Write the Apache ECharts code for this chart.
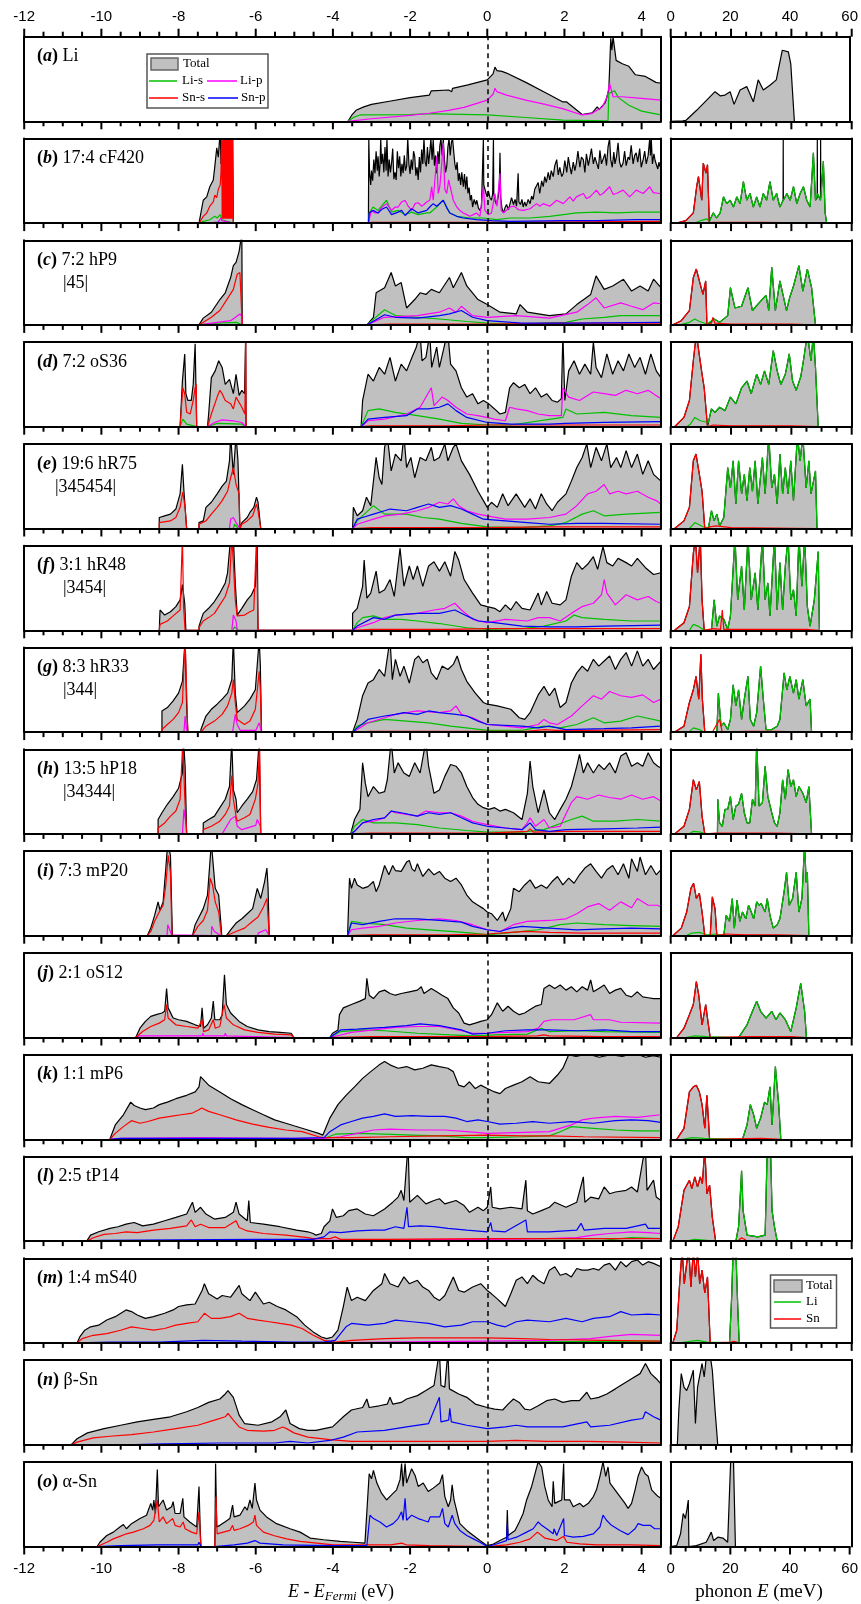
<!DOCTYPE html>
<html><head><meta charset="utf-8">
<script src="https://cdn.jsdelivr.net/npm/echarts@6/dist/echarts.min.js"></script>
<style>html,body{margin:0;padding:0;background:#fff}#c{width:861px;height:1604px}</style>
</head><body><div id="c"></div><script>
// ---------- labels / ticks ----------
const letters = ['a','b','c','d','e','f','g','h','i','j','k','l','m','n','o'];
const names = ['Li','17:4 cF420','7:2 hP9','7:2 oS36','19:6 hR75','3:1 hR48','8:3 hR33','13:5 hP18','7:3 mP20','2:1 oS12','1:1 mP6','2:5 tP14','1:4 mS40','β-Sn','α-Sn'];
const subs = ['','','|45|','','|345454|','|3454|','|344|','|34344|','','','','','','',''];
const eRange = [-12, 4.5], eMajor = 2, eMinorStep = 0.5;
const phRange = [0, 60], phMajor = 20, phMinorStep = 5;

// ---------- electronic DOS (x: eV, y: % of panel height) ----------
const A_tot = [-3.61,0,-3.5,8,-3.4,13,-3.2,17,-3.0,20,-2.5,24,-2.0,28,-1.5,31,-1.45,36,-1.0,37,-0.92,35,-0.9,39,-0.5,43,0,49,0.15,56,0.2,64,0.25,60,0.38,59,0.5,57,1.0,46,1.5,34,1.95,23,2.0,25,2.05,23,2.46,8,2.72,10,2.85,17,2.9,14,3.06,22,3.15,37,3.2,98,3.23,84,3.26,100,3.34,72,3.5,68,3.67,65,3.84,55,4.1,53,4.37,46,4.5,45];
const A_lip = [-3.61,0,-3.0,3,-2.0,7,-1.5,9.5,-1.0,13,-0.6,16.5,0,25,0.15,32,0.2,39,0.25,35,0.5,31,1.0,25,1.5,20,1.95,15,2.46,7.5,2.7,9,2.98,17,3.1,28,3.17,45,3.26,29,3.5,29,4.0,27,4.5,25];
const A_lis = [-3.61,0,-3.45,5,-3.3,7.5,-2.0,8,-1.5,9,-1.0,8.5,0,7.5,1.0,4.5,1.95,1.5,3.13,0.5,3.15,33,3.3,36,3.4,28,3.67,19,4.0,12,4.5,7.5];

const B_tot = [-7.47,0,-7.36,27,-7.27,31,-7.19,43,-7.1,51,-7.06,67,-7.01,89,-6.97,78,-6.92,110,-6.9,70,-6.88,110,-6.6,110,-6.58,0,
-3.08,0,-3.07,99,-3.05,60,-3.02,45,-3.0,62,-2.97,50,-2.94,75,-2.91,59,-2.88,85,-2.85,62,-2.83,79,-2.8,55,-2.78,68,-2.76,100,-2.74,70,-2.71,82,-2.68,60,-2.65,90,-2.62,62,-2.6,100,-2.57,55,-2.54,75,-2.51,60,-2.48,71,-2.45,88,-2.42,52,-2.39,60,-2.36,51,-2.33,85,-2.3,65,-2.27,79,-2.24,55,-2.21,70,-2.18,59,-2.15,80,-2.12,62,-2.09,67,-2.06,100,-2.03,70,-2.0,58,-1.97,75,-1.94,63,-1.91,85,-1.88,79,-1.85,56,-1.82,66,-1.79,51,-1.76,78,-1.73,60,-1.7,87,-1.67,70,-1.64,100,-1.61,72,-1.58,67,-1.55,90,-1.52,70,-1.49,83,-1.46,100,-1.43,75,-1.4,99,-1.37,68,-1.34,80,-1.31,59,-1.28,85,-1.25,70,-1.23,91,-1.2,100,-1.17,80,-1.14,99,-1.11,75,-1.08,60,-1.05,67,-1.02,90,-0.99,100,-0.96,80,-0.93,95,-0.9,100,-0.87,99,-0.84,70,-0.81,63,-0.78,72,-0.75,50,-0.72,59,-0.69,45,-0.66,60,-0.62,43,-0.59,58,-0.56,40,-0.53,55,-0.5,35,-0.47,42,-0.44,27,-0.41,33,-0.38,19,-0.34,28,-0.3,22,-0.27,27,-0.23,18,-0.19,15,-0.15,20,-0.11,18,-0.1,100,-0.09,45,-0.06,43,-0.03,35,0,31,0.03,38,0.07,30,0.11,27,0.14,35,0.16,100,0.17,35,0.2,27,0.24,22,0.28,30,0.31,40,0.33,83,0.35,30,0.38,18,0.42,12,0.46,18,0.5,22,0.55,16,0.59,23,0.63,30,0.68,22,0.72,28,0.76,20,0.8,59,0.82,25,0.86,22,0.9,28,0.93,19,0.97,25,1.01,20,1.06,28,1.11,23,1.15,32,1.19,28,1.23,40,1.28,39,1.32,48,1.36,35,1.41,50,1.45,43,1.49,55,1.53,48,1.58,60,1.62,51,1.66,62,1.71,55,1.75,68,1.8,75,1.84,57,1.88,66,1.93,55,1.97,59,2.01,74,2.06,60,2.1,78,2.14,67,2.18,58,2.23,72,2.27,62,2.31,71,2.35,85,2.4,66,2.44,78,2.49,75,2.53,60,2.57,82,2.62,68,2.66,67,2.7,88,2.75,70,2.79,78,2.83,79,2.88,64,2.92,86,2.96,70,3.0,71,3.05,82,3.09,68,3.13,90,3.17,100,3.2,75,3.24,66,3.28,84,3.31,70,3.35,79,3.39,95,3.43,72,3.47,66,3.52,71,3.56,85,3.6,68,3.65,78,3.69,75,3.73,92,3.78,70,3.82,80,3.86,83,3.9,72,3.95,88,3.99,66,4.04,75,4.08,85,4.12,70,4.17,80,4.21,100,4.23,80,4.25,100,4.28,70,4.32,82,4.35,74,4.38,75,4.42,64,4.45,72,4.47,67,4.5,70];
const B_sns = [-7.47,0,-7.36,8,-7.27,12,-7.19,20,-7.1,25,-7.06,33,-7.01,30,-6.97,40,-6.92,45,-6.9,60,
-6.88,110,-6.87,5,-6.86,110,-6.85,5,-6.84,110,-6.83,5,-6.82,110,-6.81,5,-6.8,110,-6.79,5,-6.78,110,-6.77,5,-6.76,110,-6.75,5,-6.74,110,-6.73,5,-6.72,110,-6.71,5,-6.7,110,-6.69,5,-6.68,110,-6.67,5,-6.66,110,-6.65,5,-6.64,110,-6.63,5,-6.62,110,-6.61,5,-6.6,110,-6.59,110,-6.58,0,
-3.08,0,-3.0,1,0,1,4.5,2];
const B_lip = [-6.98,0,-6.95,3,-6.9,6,-6.88,3,-6.58,0,-3.08,0,-3.06,4,-3.0,15,-2.91,12,-2.83,12,-2.74,18,-2.61,23,-2.48,15,-2.39,19,-2.31,19,-2.22,25,-2.13,27,-2.05,20,-1.96,15,-1.87,23,-1.79,24,-1.7,20,-1.64,22,-1.57,25,-1.49,27,-1.44,43,-1.4,27,-1.35,55,-1.31,79,-1.27,35,-1.23,43,-1.18,70,-1.14,95,-1.1,40,-1.05,35,-1.0,51,-0.97,45,-0.88,27,-0.79,19,-0.71,15,-0.62,12,-0.53,10,-0.45,8,-0.36,10,-0.28,12,-0.19,8,-0.1,43,-0.06,15,0.03,10,0.11,12,0.2,35,0.25,20,0.33,59,0.36,15,0.42,12,0.59,19,0.7,20,0.8,16,0.93,15,1.11,17,1.28,23,1.36,20,1.45,23,1.62,20,1.8,27,1.97,23,2.14,31,2.23,26,2.31,31,2.49,35,2.57,29,2.66,31,2.83,39,2.92,33,3.0,35,3.17,43,3.26,34,3.35,35,3.52,39,3.69,31,3.86,39,4.04,35,4.21,43,4.3,36,4.47,35,4.5,36];
const B_lis = [-7.47,0,-7.36,2,-7.19,4,-7.06,8,-7.0,6,-6.92,10,-6.88,4,-6.58,0,-3.08,0,-3.06,12,-2.96,19,-2.83,15,-2.74,20,-2.61,27,-2.48,13,-2.31,15,-2.13,10,-1.96,13,-1.79,10,-1.57,12,-1.49,12,-1.31,19,-1.14,27,-0.97,12,-0.79,8,-0.45,6,-0.1,6,0.24,4,0.59,6,1.11,6,1.62,8,1.97,10,2.31,12,2.83,13,3.35,12,3.86,13,4.5,13];
const B_snp = [-7.47,0,-7.0,1,-6.58,0,-3.08,0,-3.06,12,-2.96,15,-2.83,12,-2.74,16,-2.61,19,-2.48,10,-2.31,13,-2.22,15,-2.13,9,-1.96,17,-1.79,12,-1.57,15,-1.49,19,-1.4,23,-1.31,20,-1.14,27,-1.05,18,-0.97,12,-0.79,8,-0.62,6,-0.28,4,0.11,3,0.59,2,1.97,3,2.83,3,3.86,4,4.5,4];

const C_tot = [-7.47,0,-7.36,8,-7.15,15,-6.93,30,-6.79,38,-6.65,56,-6.58,70,-6.51,74,-6.43,87,-6.39,99,-6.36,110,-6.35,0,-3.12,0,-2.95,9,-2.88,38,-2.66,44,-2.49,62,-2.38,46,-2.23,50,-2.09,20,-1.88,30,-1.74,38,-1.59,36,-1.45,42,-1.24,38,-0.98,56,-0.88,44,-0.67,62,-0.53,46,-0.24,30,0,24,0.33,15,0.75,13,0.85,24,1.04,15,1.61,11,2.04,13,2.32,24,2.68,36,2.82,58,3.03,42,3.25,46,3.53,54,3.74,40,3.96,46,4.17,40,4.31,54,4.5,44];
const C_sns = [-7.47,0,-7.15,9,-6.93,17,-6.72,32,-6.58,42,-6.48,60,-6.41,62,-6.36,60,-6.35,0,-3.12,0,-2.5,1,0,1,2.0,2,4.5,2];
const C_lip = [-7.47,0,-6.65,5,-6.41,13,-6.36,10,-6.35,0,-3.12,0,-2.66,9,-1.81,11,-1.24,15,-0.98,20,-0.81,15,-0.67,22,-0.38,11,0,9,0.75,11,1.61,8,2.32,15,2.6,24,2.82,32,3.03,20,3.46,26,3.74,22,4.03,18,4.31,26,4.5,25];
const C_lis = [-7.47,0,-7.0,2,-6.5,3,-6.35,0,-3.12,0,-2.66,18,-2.38,11,-1.81,9,-1.24,7,-0.53,4,0,2,0.9,1,2.04,3,2.46,7,3.03,9,3.46,11,4.5,11];
const C_snp = [-3.12,0,-2.66,12,-2.38,9,-1.81,8,-1.24,11,-0.98,13,-0.67,17,-0.38,9,0,5,0.9,2,2.32,2,4.5,3];

const D_tot = [-7.96,0,-7.9,54,-7.84,86,-7.81,39,-7.76,31,-7.67,31,-7.62,50,-7.57,98,-7.54,100,-7.53,0,-7.25,0,-7.22,15,-7.15,58,-7.05,66,-6.96,78,-6.87,70,-6.79,50,-6.68,56,-6.58,39,-6.51,62,-6.43,37,-6.36,43,-6.29,39,-6.26,110,-6.25,0,-3.27,0,-3.23,31,-3.09,62,-2.95,54,-2.8,70,-2.66,62,-2.52,82,-2.38,54,-2.23,74,-2.09,66,-1.95,82,-1.84,94,-1.74,110,-1.69,78,-1.59,82,-1.49,110,-1.44,70,-1.31,94,-1.24,70,-1.1,98,-1.02,110,-0.95,74,-0.81,66,-0.67,46,-0.53,35,-0.38,39,-0.24,27,-0.1,31,0.04,27,0.19,21,0.33,15,0.47,17,0.58,46,0.68,52,0.83,46,0.97,50,1.11,39,1.25,46,1.4,35,1.54,39,1.68,31,1.82,29,1.92,33,1.96,110,2.01,31,2.11,66,2.25,78,2.39,62,2.53,74,2.68,62,2.75,100,2.82,70,2.96,58,3.1,86,3.25,62,3.39,78,3.53,66,3.67,86,3.82,70,3.96,82,4.1,62,4.24,86,4.38,66,4.5,58];
const D_sns = [-7.96,0,-7.89,46,-7.84,39,-7.79,17,-7.7,15,-7.62,31,-7.57,46,-7.54,50,-7.53,0,-7.25,0,-7.15,15,-7.0,35,-6.93,43,-6.87,39,-6.79,31,-6.65,27,-6.58,21,-6.51,35,-6.36,23,-6.28,15,-6.26,110,-6.25,0,-3.27,0,-3.0,1,-1.0,1,0,2,2.0,2,4.5,2];
const D_lip = [-7.6,0,-7.57,2,-7.53,0,-7.25,0,-7.07,5,-6.87,8,-6.58,7,-6.36,5,-6.25,0,-3.27,0,-3.09,7,-2.66,9,-2.09,15,-1.74,23,-1.45,46,-1.38,25,-1.17,35,-1.02,31,-0.81,23,-0.53,15,-0.24,13,0.19,9,0.47,7,0.58,23,0.75,21,1.04,19,1.32,15,1.61,13,1.92,13,1.96,46,2.11,35,2.39,31,2.75,41,3.03,39,3.32,37,3.6,43,3.89,39,4.17,43,4.5,33];
const D_lis = [-7.96,0,-7.89,9,-7.79,3,-7.53,0,-7.25,0,-7.0,4,-6.36,3,-6.25,0,-3.27,0,-3.09,19,-2.8,21,-2.38,17,-1.81,13,-1.24,9,-0.67,4,0,2,0.61,2,1.96,11,2.04,21,2.32,15,3.03,17,3.74,13,4.5,11];
const D_snp = [-3.27,0,-3.09,9,-2.66,11,-2.09,13,-1.81,21,-1.52,21,-1.24,23,-1.02,27,-0.81,19,-0.53,11,0,5,0.61,3,1.61,3,2.04,4,3.03,5,4.5,6];

const E_tot = [-8.5,0,-8.5,13,-8.36,15,-8.21,17,-8.07,23,-7.96,41,-7.9,76,-7.86,44,-7.79,0,-7.47,0,-7.47,7,-7.36,9,-7.29,25,-7.15,31,-7.0,41,-6.87,50,-6.76,56,-6.68,80,-6.65,110,-6.58,64,-6.51,110,-6.46,80,-6.41,0,-6.36,0,-6.36,7,-6.22,13,-6.15,19,-6.05,25,-5.98,37,-5.94,31,-5.87,0,-3.49,0,-3.47,25,-3.37,15,-3.23,21,-3.13,37,-3.02,27,-2.88,84,-2.8,60,-2.73,52,-2.66,96,-2.59,110,-2.49,68,-2.38,88,-2.23,80,-2.16,110,-2.09,72,-1.98,84,-1.88,60,-1.74,84,-1.59,80,-1.45,96,-1.38,80,-1.24,84,-1.1,100,-1.02,80,-0.88,96,-0.81,100,-0.67,80,-0.46,64,-0.24,44,-0.1,33,0,25,0.11,31,0.26,25,0.4,41,0.54,27,0.75,41,0.97,25,1.11,35,1.25,23,1.4,41,1.54,29,1.68,21,1.82,31,2.04,41,2.18,56,2.32,72,2.46,84,2.58,100,2.68,72,2.82,96,2.96,80,3.1,100,3.2,72,3.35,84,3.46,72,3.6,92,3.74,72,3.89,88,4.03,64,4.17,80,4.31,64,4.5,56];
const E_sns = [-8.5,0,-8.5,7,-8.21,9,-8.07,13,-7.96,25,-7.89,43,-7.83,25,-7.79,0,-7.47,0,-7.47,5,-7.29,9,-7.15,17,-7.0,25,-6.87,33,-6.73,44,-6.65,60,-6.58,72,-6.51,52,-6.43,41,-6.41,0,-6.36,0,-6.36,5,-6.22,9,-6.08,15,-5.98,29,-5.94,21,-5.87,0,-3.49,0,-3.0,1,0,1,1.5,2,4.5,2];
const E_lip = [-6.68,0,-6.65,11,-6.58,13,-6.51,7,-6.41,0,-3.49,0,-3.37,5,-2.95,11,-2.66,15,-2.23,17,-1.81,21,-1.52,25,-1.24,31,-1.02,29,-0.88,35,-0.74,27,-0.53,21,-0.24,17,0,15,0.47,11,1.04,11,1.61,13,2.04,17,2.32,27,2.6,41,2.82,44,3.03,52,3.17,41,3.39,44,3.6,41,3.89,44,4.17,37,4.38,33,4.5,29];
const E_lis = [-6.58,0,-6.55,5,-6.45,0,-3.49,0,-3.37,9,-2.95,27,-2.66,17,-2.09,17,-1.67,13,-1.24,11,-0.67,6,0,2,0.9,1,1.61,3,2.04,7,2.46,17,2.75,21,3.03,15,3.6,17,4.5,19];
const E_snp = [-3.49,0,-3.37,11,-3.23,13,-2.95,17,-2.66,21,-2.52,23,-2.09,21,-1.81,25,-1.52,29,-1.24,25,-0.95,27,-0.67,23,-0.38,17,-0.1,11,0.47,9,1.04,7,1.61,5,2.32,6,3.03,6,4.5,5];

const F_tot = [-8.5,0,-8.48,24,-8.36,18,-8.21,22,-8.07,28,-7.96,36,-7.9,54,-7.84,32,-7.81,0,-7.47,0,-7.47,5,-7.36,20,-7.22,26,-7.07,34,-6.93,44,-6.79,56,-6.73,68,-6.65,110,-6.58,110,-6.53,56,-6.48,18,-6.36,26,-6.22,36,-6.11,42,-6.01,52,-5.96,110,-5.94,0,-3.49,0,-3.49,20,-3.37,26,-3.23,52,-3.19,83,-3.12,38,-3.02,44,-2.88,70,-2.8,44,-2.66,48,-2.52,60,-2.41,40,-2.26,97,-2.16,52,-2.02,76,-1.92,60,-1.81,76,-1.67,52,-1.52,76,-1.38,81,-1.24,70,-1.1,81,-0.95,64,-0.84,93,-0.74,83,-0.6,60,-0.38,44,-0.17,30,0,28,0.19,26,0.33,22,0.47,30,0.61,24,0.75,34,0.9,26,1.11,24,1.32,44,1.4,30,1.54,46,1.68,32,1.89,30,2.04,36,2.18,64,2.32,80,2.46,72,2.6,78,2.75,87,2.86,72,3.0,99,3.1,80,3.25,76,3.39,85,3.6,80,3.74,76,3.89,85,4.1,74,4.31,66,4.5,68];
const F_sns = [-8.5,0,-8.48,7,-8.29,11,-8.14,17,-7.96,24,-7.9,110,-7.87,28,-7.83,0,-7.47,0,-7.47,3,-7.36,11,-7.22,15,-7.07,20,-6.93,30,-6.79,40,-6.68,56,-6.62,110,-6.58,80,-6.53,36,-6.48,17,-6.29,18,-6.15,22,-6.05,24,-5.98,110,-5.94,0,-3.49,0,-3.0,1,-1.0,1,0,2,1.5,2,3.0,2,4.5,2];
const F_lip = [-6.62,0,-6.58,18,-6.51,11,-6.48,0,-3.49,0,-3.37,3,-2.95,9,-2.66,15,-2.38,18,-1.81,20,-1.38,24,-1.1,26,-0.84,32,-0.67,24,-0.38,13,0,9,0.47,13,1.04,11,1.32,15,1.61,15,1.89,11,2.18,20,2.46,28,2.75,32,2.96,42,3.03,60,3.1,44,3.32,30,3.6,42,3.89,36,4.17,40,4.38,34,4.5,32];
const F_lis = [-6.6,0,-6.55,4,-6.45,0,-3.49,0,-3.37,9,-3.23,15,-2.95,17,-2.66,13,-2.23,13,-1.81,11,-1.24,8,-0.53,3,0,1,0.9,2,1.47,5,2.04,11,2.25,18,2.46,15,3.03,13,3.74,11,4.5,11];
const F_snp = [-3.49,0,-3.37,5,-2.95,15,-2.66,13,-2.38,18,-1.81,20,-1.24,20,-0.84,24,-0.53,17,-0.24,11,0.19,9,0.9,5,1.61,4,2.32,4,3.03,5,4.5,6];

const G_tot = [-8.43,0,-8.43,25,-8.29,29,-8.14,37,-8.0,46,-7.9,60,-7.83,110,-7.79,31,-7.76,0,-7.42,0,-7.42,3,-7.29,19,-7.15,27,-7.0,33,-6.87,39,-6.73,46,-6.62,62,-6.58,110,-6.53,46,-6.48,23,-6.29,31,-6.15,39,-6.01,50,-5.91,110,-5.88,78,-5.85,0,-3.49,0,-3.37,15,-3.23,43,-3.09,58,-2.95,62,-2.8,74,-2.66,66,-2.52,110,-2.46,62,-2.38,86,-2.26,66,-2.16,78,-2.02,58,-1.88,86,-1.78,90,-1.67,82,-1.55,86,-1.45,70,-1.31,62,-1.17,78,-1.02,74,-0.88,80,-0.78,90,-0.67,74,-0.53,60,-0.31,46,-0.1,35,0,33,0.26,31,0.61,27,0.83,17,0.97,15,1.11,23,1.32,44,1.47,54,1.61,43,1.75,52,1.89,29,2.04,35,2.18,58,2.32,70,2.46,78,2.6,72,2.75,86,2.89,78,3.03,84,3.17,90,3.32,74,3.46,86,3.6,94,3.74,78,3.89,96,4.03,78,4.17,86,4.31,74,4.5,84];
const G_sns = [-8.43,0,-8.43,3,-8.29,9,-8.14,15,-8.0,23,-7.9,35,-7.83,110,-7.79,46,-7.76,0,-7.42,0,-7.42,1,-7.29,7,-7.07,13,-6.87,21,-6.73,31,-6.62,46,-6.58,62,-6.53,35,-6.48,15,-6.29,9,-6.15,13,-6.01,27,-5.91,72,-5.88,50,-5.85,0,-3.49,0,-3.0,1,0,1,1.0,1,1.5,3,1.75,2,2.5,2,4.5,3];
const G_lip = [-7.86,0,-7.83,19,-7.79,3,-7.76,0,-6.6,0,-6.53,21,-6.48,9,-6.4,2,-6.0,2,-5.91,11,-5.85,0,-3.49,0,-3.37,3,-3.09,11,-2.66,17,-2.38,21,-2.09,23,-1.81,25,-1.24,23,-0.95,25,-0.81,31,-0.67,21,-0.38,17,0,9,0.47,7,0.9,5,1.32,9,1.47,15,1.61,11,1.82,9,2.18,19,2.46,31,2.75,43,2.96,39,3.17,48,3.46,43,3.74,41,4.03,44,4.31,35,4.5,39];
const G_lis = [-3.49,0,-3.37,7,-3.09,11,-2.66,15,-2.09,13,-1.52,11,-0.95,7,-0.38,4,0,2,0.9,2,1.47,7,1.89,5,2.32,9,2.75,17,3.03,11,3.46,13,3.89,19,4.5,13];
const G_snp = [-3.49,0,-3.37,5,-3.09,15,-2.66,19,-2.38,21,-2.16,23,-1.81,21,-1.52,25,-1.24,23,-0.81,21,-0.53,19,-0.24,13,0,9,0.9,7,1.32,5,1.61,7,2.04,3,3.03,4,3.74,5,4.5,7];

const H_tot = [-8.53,0,-8.53,17,-8.43,25,-8.29,35,-8.14,44,-8.0,54,-7.9,72,-7.87,110,-7.83,80,-7.79,0,-7.36,0,-7.36,13,-7.22,17,-7.07,21,-6.93,31,-6.79,41,-6.68,56,-6.62,110,-6.58,52,-6.51,41,-6.48,25,-6.36,33,-6.22,41,-6.08,50,-5.98,64,-5.91,110,-5.87,0,-3.54,0,-3.44,17,-3.3,29,-3.23,84,-3.16,60,-3.09,44,-2.95,56,-2.8,48,-2.66,50,-2.59,64,-2.49,110,-2.41,72,-2.31,84,-2.16,72,-2.02,68,-1.88,84,-1.74,72,-1.59,110,-1.52,80,-1.38,48,-1.24,52,-1.1,68,-0.95,82,-0.81,80,-0.67,72,-0.53,56,-0.38,43,-0.24,35,-0.1,31,0.04,29,0.19,31,0.33,27,0.47,29,0.68,25,0.9,17,1.04,48,1.11,86,1.18,56,1.32,25,1.47,52,1.61,25,1.75,17,1.89,29,2.04,41,2.18,56,2.32,80,2.39,94,2.49,72,2.6,84,2.75,72,2.89,82,3.03,76,3.17,84,3.32,72,3.46,92,3.6,96,3.74,80,3.89,84,4.03,80,4.17,96,4.31,84,4.42,80,4.5,78];
const H_sns = [-8.53,0,-8.53,7,-8.36,13,-8.21,21,-8.07,27,-7.96,41,-7.89,110,-7.84,44,-7.79,0,-7.36,0,-7.36,5,-7.15,9,-6.93,15,-6.79,23,-6.68,33,-6.62,69,-6.58,41,-6.51,21,-6.48,15,-6.29,19,-6.15,23,-6.01,41,-5.94,60,-5.9,110,-5.87,0,-3.54,0,-3.0,1,0,1,1.04,3,1.11,6,1.2,2,2.0,3,3.0,3,4.5,3];
const H_lip = [-7.9,0,-7.86,29,-7.8,9,-7.79,0,-6.87,0,-6.65,17,-6.53,21,-6.48,9,-6.36,5,-6.0,10,-5.96,17,-5.88,9,-5.87,0,-3.54,0,-3.44,3,-3.23,13,-2.95,15,-2.66,19,-2.49,27,-2.38,25,-2.09,23,-1.81,21,-1.59,27,-1.24,25,-0.95,25,-0.67,21,-0.38,15,0,11,0.47,7,0.9,5,1.04,13,1.11,19,1.25,9,1.47,17,1.61,7,1.89,9,2.18,37,2.32,44,2.6,41,2.89,46,3.17,43,3.46,41,3.74,46,4.03,41,4.31,44,4.5,39];
const H_lis = [-3.54,0,-3.44,9,-3.23,17,-2.95,13,-2.38,13,-1.81,11,-1.24,7,-0.53,4,0,2,0.9,2,1.47,5,2.18,17,2.46,21,2.75,15,3.32,15,3.89,17,4.5,15];
const H_snp = [-3.54,0,-3.44,3,-3.23,13,-2.95,17,-2.66,19,-2.49,27,-2.23,25,-1.81,21,-1.52,25,-1.24,23,-0.95,25,-0.67,19,-0.38,13,0,9,0.47,7,0.9,5,1.11,13,1.25,5,1.61,3,2.04,5,3.03,6,3.89,7,4.5,8];

const I_tot = [-8.81,0,-8.72,9,-8.62,24,-8.53,40,-8.48,30,-8.4,40,-8.33,80,-8.28,110,-8.21,95,-8.16,0,-7.64,0,-7.57,13,-7.47,22,-7.36,32,-7.25,48,-7.15,110,-7.1,110,-7.05,56,-6.96,48,-6.9,13,-6.88,0,-6.76,0,-6.65,7,-6.51,15,-6.36,20,-6.22,26,-6.08,32,-5.96,56,-5.87,44,-5.77,64,-5.71,80,-5.68,56,-5.65,0,-3.62,0,-3.57,68,-3.52,56,-3.44,68,-3.37,60,-3.23,56,-3.09,58,-2.95,64,-2.88,52,-2.8,60,-2.66,83,-2.55,72,-2.45,83,-2.38,77,-2.23,76,-2.09,87,-2.02,89,-1.95,79,-1.88,76,-1.81,85,-1.67,70,-1.52,79,-1.38,72,-1.24,76,-1.1,68,-0.95,64,-0.81,68,-0.67,60,-0.53,48,-0.38,40,-0.24,36,-0.1,32,0,28,0.11,26,0.26,18,0.4,28,0.47,17,0.61,32,0.68,56,0.83,52,0.97,60,1.11,66,1.25,56,1.4,60,1.54,56,1.68,64,1.82,70,1.96,60,2.11,68,2.25,62,2.39,72,2.53,80,2.68,85,2.82,76,2.96,68,3.1,78,3.25,83,3.39,72,3.53,85,3.67,68,3.74,91,3.89,76,3.96,93,4.1,72,4.24,83,4.38,72,4.5,78];
const I_sns = [-8.81,0,-8.72,5,-8.62,17,-8.5,28,-8.4,36,-8.33,60,-8.27,95,-8.21,75,-8.17,0,-7.64,0,-7.5,11,-7.36,18,-7.25,30,-7.18,68,-7.12,60,-7.05,40,-6.96,28,-6.89,0,-6.76,0,-6.51,5,-6.29,9,-6.08,17,-5.94,22,-5.8,34,-5.71,44,-5.65,0,-3.62,0,-3.0,1,-1.0,1,0,2,0.61,4,1.0,5,1.61,4,2.5,3,4.5,3];
const I_lip = [-8.3,0,-8.28,13,-8.18,1,-8.16,0,-7.15,0,-7.14,11,-7.07,5,-6.9,0,-5.94,0,-5.94,3,-5.74,7,-5.65,0,-3.62,0,-3.52,7,-3.23,9,-2.8,11,-2.38,15,-1.81,18,-1.24,20,-0.81,18,-0.38,13,0,7,0.33,5,0.68,13,1.04,17,1.61,18,2.04,20,2.32,26,2.6,34,2.89,38,3.17,30,3.46,40,3.74,33,3.89,44,4.17,36,4.42,36,4.5,34];
const I_lis = [-3.62,0,-3.52,17,-3.23,15,-2.66,13,-2.09,9,-1.52,7,-0.95,5,-0.38,3,0,1,0.47,3,1.32,7,1.89,13,2.32,15,3.03,13,3.74,12,4.5,11];
const I_snp = [-3.62,0,-3.52,15,-3.23,13,-2.8,17,-2.38,20,-1.81,20,-1.24,18,-0.67,16,-0.38,11,0,7,0.33,5,0.61,9,0.9,11,1.61,9,2.32,7,3.03,8,3.74,9,4.5,8];

const J_tot = [-9.11,0,-9.0,11,-8.86,19,-8.72,25,-8.58,27,-8.43,29,-8.36,31,-8.31,58,-8.27,35,-8.14,23,-8.0,21,-7.79,19,-7.57,15,-7.43,13,-7.39,35,-7.35,11,-7.25,15,-7.15,23,-7.1,43,-7.06,21,-6.93,21,-6.87,27,-6.81,74,-6.76,39,-6.65,29,-6.43,19,-6.22,13,-5.94,9,-5.65,7,-5.37,6,-5.08,5,-5.01,0,-4.08,0,-4.01,5,-3.87,9,-3.83,27,-3.73,35,-3.52,39,-3.3,43,-3.16,46,-3.12,70,-3.06,50,-2.95,46,-2.8,54,-2.66,56,-2.52,52,-2.38,50,-2.23,52,-2.02,54,-1.81,56,-1.71,60,-1.64,52,-1.45,58,-1.31,54,-1.17,50,-1.02,46,-0.88,35,-0.74,29,-0.6,17,-0.46,15,-0.31,17,-0.17,19,0,21,0.11,27,0.26,41,0.4,31,0.54,37,0.68,31,0.83,27,0.97,29,1.11,33,1.25,37,1.4,39,1.47,58,1.61,62,1.75,58,1.89,62,2.04,56,2.18,60,2.32,54,2.46,60,2.6,56,2.68,68,2.75,54,2.89,58,3.03,62,3.17,52,3.32,56,3.46,58,3.6,50,3.74,48,3.89,54,4.03,48,4.17,47,4.31,46,4.5,46];
const J_sns = [-9.11,0,-8.93,7,-8.72,13,-8.5,17,-8.36,21,-8.31,39,-8.27,23,-8.07,15,-7.79,13,-7.5,11,-7.39,21,-7.35,7,-7.22,9,-7.1,21,-7.05,11,-6.93,13,-6.82,39,-6.76,23,-6.58,15,-6.29,9,-5.94,6,-5.51,4,-5.08,3,-5.01,0,-4.08,0,-3.0,1,-1.0,1,0,1,1.3,2,1.47,3,1.6,2,3.0,1,4.5,1];
const J_lip = [-9.11,0,-9.0,2,-7.39,2,-7.37,5,-7.35,2,-6.81,2,-6.79,5,-6.76,2,-5.01,0,-4.08,0,-3.8,3,-3.52,6,-2.95,9,-2.38,12,-1.81,13,-1.24,13,-0.67,8,-0.38,5,0,5,0.47,6,1.04,7,1.32,11,1.47,19,1.68,21,2.25,21,2.68,27,2.75,21,3.17,21,3.46,18,4.5,17];
const J_lis = [-4.08,0,-3.8,7,-3.23,9,-2.66,8,-1.81,5,-0.95,3,-0.38,2,0.19,3,1.04,4,1.4,11,1.61,7,2.32,8,3.03,7,4.5,6];
const J_snp = [-4.08,0,-3.8,9,-3.37,10,-2.66,12,-2.09,14,-1.74,16,-1.24,14,-0.67,9,-0.38,4,0,5,0.47,8,1.04,9,1.61,9,2.32,8,3.03,9,3.74,7,4.5,7];

const K_tot = [-9.78,0,-9.64,17,-9.43,29,-9.24,44,-9.15,40,-9.0,37,-8.86,35,-8.65,37,-8.5,41,-8.29,44,-8.07,48,-7.79,52,-7.57,56,-7.47,62,-7.43,74,-7.22,64,-6.93,56,-6.65,48,-6.36,41,-6.08,35,-5.8,29,-5.51,23,-5.22,19,-5.01,16,-4.65,11,-4.37,7,-4.26,5,-4.08,25,-3.87,41,-3.66,52,-3.44,62,-3.23,72,-3.02,80,-2.8,88,-2.66,92,-2.52,88,-2.31,84,-2.09,86,-1.88,82,-1.67,84,-1.45,88,-1.24,86,-1.02,84,-0.88,80,-0.74,64,-0.6,62,-0.46,68,-0.31,60,-0.17,64,0,60,0.19,56,0.33,54,0.47,60,0.68,64,0.9,68,1.11,74,1.32,68,1.61,66,1.82,76,1.96,84,2.11,100,2.3,98,2.6,101,2.9,97,3.2,100,3.5,98,3.8,102,4.1,97,4.3,99,4.5,97];
const K_sns = [-9.78,0,-9.64,7,-9.43,15,-9.22,22,-9.0,19,-8.79,21,-8.5,25,-8.21,27,-7.93,29,-7.64,31,-7.47,35,-7.4,37,-7.22,33,-6.93,29,-6.51,23,-6.08,18,-5.65,14,-5.22,11,-4.8,9,-4.37,3,-4.23,2,-3.5,2,-2.5,3,-1.24,4,0,5,0.9,4,1.61,4,2.5,3,4.5,2];
const K_lip = [-9.78,0,-9.5,1,-7.5,2,-5,1,-4.23,1,-3.8,3,-3.37,7,-2.95,11,-2.52,12,-1.81,11,-1.1,11,-0.53,9,0,7,0.75,8,1.61,9,2.18,17,2.46,23,2.75,25,3.32,27,3.89,26,4.5,29];
const K_lis = [-4.23,1,-3.94,6,-3.37,7,-2.66,6,-1.95,5,-1.24,4,-0.53,2,0,2,0.9,3,1.61,4,1.89,9,2.18,15,2.75,13,3.32,11,3.89,10,4.5,10];
const K_snp = [-9.78,0,-9.5,1,-5,1,-4.23,2,-4.08,9,-3.8,17,-3.52,21,-3.23,25,-2.95,27,-2.66,30,-2.38,27,-1.95,28,-1.52,27,-1.1,27,-0.81,25,-0.53,21,-0.24,23,0,21,0.33,18,0.75,19,1.18,21,1.61,19,2.18,21,2.75,19,3.32,22,3.74,23,4.17,22,4.5,20];

const L_tot = [-10.38,0,-10.28,7,-10.07,11,-9.78,15,-9.57,17,-9.36,20,-9.15,22,-8.93,18,-8.65,20,-8.36,24,-8.07,28,-7.79,32,-7.64,46,-7.57,34,-7.43,40,-7.29,32,-7.07,26,-6.79,28,-6.58,34,-6.51,46,-6.43,32,-6.22,24,-6.18,48,-6.14,22,-5.8,20,-5.37,17,-4.94,13,-4.65,11,-4.51,9,-4.44,7,-4.3,9,-4.23,17,-4.08,24,-4.01,38,-3.91,28,-3.73,30,-3.59,36,-3.37,38,-3.16,32,-2.95,30,-2.8,34,-2.66,38,-2.45,46,-2.31,52,-2.23,60,-2.16,48,-2.08,97,-2.05,110,-2.01,46,-1.81,54,-1.59,44,-1.38,48,-1.24,50,-1.1,44,-0.81,48,-0.6,42,-0.46,34,-0.24,40,-0.1,36,0,40,0.09,64,0.13,40,0.33,38,0.61,40,0.9,38,1.0,72,1.04,36,1.18,32,1.4,36,1.61,40,1.75,46,2.04,40,2.32,46,2.49,76,2.53,46,2.68,52,2.89,50,3.03,64,3.17,56,3.32,58,3.6,60,3.74,64,3.89,58,4.03,95,4.1,110,4.14,60,4.31,72,4.38,52,4.5,48];
const L_sns = [-10.38,0,-10.21,4,-9.93,8,-9.64,9,-9.36,11,-9.07,10,-8.65,13,-8.21,15,-7.79,18,-7.67,25,-7.57,17,-7.43,20,-7.22,16,-6.79,16,-6.51,24,-6.43,16,-6.22,12,-5.8,9,-5.22,7,-4.65,4,-4.51,3,-4.08,3,-3.94,5,-3.8,2,-2.66,2,0,3,1.61,3,2.6,3,4.5,3];
const L_lip = [-10.38,0,-4.5,1,0,2,1.5,3,2.32,4,2.75,7,3.17,9,3.74,11,4.17,10,4.5,9];
const L_lis = [-10.38,0,0,1,3.0,1,3.74,4,4.5,3];
const L_snp = [-10.38,0,-10.0,1,-6.0,2,-4.51,2,-4.23,5,-4.08,11,-3.8,10,-3.37,12,-2.95,13,-2.66,13,-2.38,17,-2.16,15,-2.08,40,-2.04,17,-1.74,18,-1.38,17,-1.02,15,-0.53,13,0,11,0.09,22,0.13,12,0.47,11,1.0,25,1.04,11,1.61,11,2.32,13,2.43,21,2.51,13,3.03,15,3.6,15,4.1,20,4.17,15,4.5,15];

const M_tot = [-10.63,0,-10.56,7,-10.43,15,-10.28,19,-10.07,21,-9.86,27,-9.64,31,-9.36,39,-9.22,37,-9.07,33,-8.86,29,-8.65,31,-8.36,35,-8.14,39,-8.0,43,-7.79,45,-7.57,46,-7.39,62,-7.33,70,-7.22,58,-7.0,52,-6.87,56,-6.65,54,-6.43,68,-6.36,58,-6.15,50,-6.01,60,-5.8,46,-5.65,48,-5.44,43,-5.22,39,-4.94,31,-4.73,21,-4.51,13,-4.3,7,-4.16,5,-4.01,7,-3.87,15,-3.73,43,-3.63,66,-3.52,50,-3.37,54,-3.16,50,-2.95,62,-2.73,70,-2.66,82,-2.52,70,-2.31,66,-2.16,78,-2.02,70,-1.81,74,-1.67,66,-1.52,62,-1.38,54,-1.24,50,-1.1,56,-0.88,78,-0.74,62,-0.6,60,-0.38,66,-0.17,70,0,62,0.11,58,0.26,52,0.4,46,0.47,43,0.61,58,0.75,74,0.9,78,1.04,70,1.18,80,1.32,74,1.47,70,1.61,86,1.75,90,1.89,80,2.04,82,2.18,78,2.32,88,2.46,86,2.6,86,2.75,88,2.89,86,3.03,92,3.17,94,3.32,86,3.46,96,3.6,90,3.74,96,3.89,98,4.03,92,4.17,96,4.31,94,4.5,90];
const M_sns = [-10.63,0,-10.5,5,-10.21,9,-9.86,11,-9.5,15,-9.22,19,-8.93,17,-8.65,15,-8.36,17,-8.07,21,-7.79,23,-7.5,25,-7.33,35,-7.15,29,-6.93,29,-6.65,31,-6.43,35,-6.22,29,-5.94,27,-5.65,25,-5.37,23,-5.08,21,-4.8,17,-4.51,9,-4.23,3,-3.94,1,-3.5,3,-2.66,5,-1.81,6,-1.24,6,-0.5,6,0,6,0.9,5,1.61,4,3.03,3,4.5,2];
const M_lip = [-10.63,0,-4.23,0,-2.66,1,0,2,1.61,3,2.68,5,3.25,8,3.74,10,4.5,9];
const M_lis = [-10.63,0,-4.23,0,0,1,4.5,2];
const M_snp = [-10.63,0,-9.78,1,-8.5,1,-7.36,3,-6.36,2,-5.08,1,-4.23,1,-3.94,3,-3.8,11,-3.66,19,-3.52,23,-3.09,21,-2.66,23,-2.38,27,-1.95,25,-1.52,23,-1.1,19,-0.67,21,-0.38,25,0,25,0.26,21,0.47,19,0.75,25,1.04,27,1.61,25,2.04,29,2.46,25,2.75,29,3.17,31,3.46,37,3.74,33,4.17,34,4.5,33];

const N_tot = [-10.78,0,-10.63,7,-10.36,14,-9.93,19,-9.5,23,-9.07,27,-8.65,30,-8.21,33,-7.79,39,-7.5,44,-7.22,50,-6.93,54,-6.79,60,-6.72,64,-6.58,56,-6.43,35,-6.29,25,-5.94,23,-5.58,27,-5.37,33,-5.22,41,-5.11,25,-4.87,19,-4.65,17,-4.44,17,-4.23,19,-4.01,21,-3.73,33,-3.52,41,-3.23,44,-3.12,54,-3.06,44,-2.8,46,-2.59,48,-2.52,56,-2.45,48,-2.23,50,-2.09,54,-1.81,58,-1.59,64,-1.38,70,-1.24,110,-1.2,70,-1.1,68,-1.02,110,-0.98,66,-0.74,60,-0.53,56,-0.31,48,0,44,0.19,42,0.4,41,0.54,48,0.68,54,0.83,50,0.97,42,1.11,41,1.32,46,1.54,52,1.75,54,1.96,50,2.18,52,2.39,52,2.58,62,2.68,54,2.89,56,3.1,60,3.32,66,3.53,72,3.74,78,3.96,84,4.1,96,4.24,84,4.38,78,4.5,72];
const N_sns = [-10.78,0,-10.63,3,-10.21,8,-9.78,10,-9.22,12,-8.65,15,-8.07,19,-7.5,23,-7.07,29,-6.79,33,-6.72,37,-6.58,29,-6.43,21,-6.22,17,-5.8,16,-5.51,17,-5.3,21,-5.2,19,-5.01,14,-4.65,9,-4.08,6,-3.52,4,-2.66,4,-1.24,4,0,4,0.75,5,1.54,4,2.6,4,3.6,3,4.5,2];
const N_snp = [-9.15,0,-8.36,1,-6.93,2,-5.51,2,-5.11,4,-4.65,2,-4.08,5,-3.73,9,-3.37,15,-2.66,17,-2.09,21,-1.52,25,-1.24,56,-1.2,27,-1.0,29,-0.97,43,-0.93,27,-0.53,23,0,19,0.47,21,0.75,23,1.04,21,1.61,21,1.96,21,2.58,27,2.68,21,3.17,23,3.74,29,4.03,31,4.1,39,4.31,33,4.5,29];

const O_tot = [-10.11,0,-10.04,5,-9.86,13,-9.69,17,-9.52,23,-9.43,26,-9.35,21,-9.22,27,-9.0,33,-8.83,37,-8.72,51,-8.67,43,-8.64,55,-8.6,39,-8.55,91,-8.52,47,-8.4,55,-8.31,43,-8.18,47,-8.14,53,-8.09,39,-7.96,39,-7.89,57,-7.86,35,-7.71,29,-7.53,23,-7.47,71,-7.44,23,-7.42,0,-7.06,0,-7.04,98,-7.01,23,-6.93,25,-6.8,29,-6.67,33,-6.6,49,-6.56,35,-6.41,37,-6.28,47,-6.22,43,-6.15,55,-6.09,45,-6.02,75,-5.98,55,-5.89,43,-5.72,35,-5.46,27,-5.11,21,-4.85,17,-4.59,10,-4.24,8,-3.81,6,-3.47,5,-3.17,4,-3.12,4,-3.06,86,-3.0,80,-2.95,90,-2.86,75,-2.74,63,-2.61,55,-2.48,61,-2.35,67,-2.26,79,-2.22,98,-2.18,71,-2.13,98,-2.09,75,-1.96,92,-1.87,84,-1.79,71,-1.66,75,-1.53,65,-1.48,67,-1.4,69,-1.23,75,-1.16,85,-1.1,59,-1.01,47,-0.95,55,-0.91,73,-0.86,55,-0.71,27,-0.53,19,-0.36,13,-0.19,7,0,1,0.16,3,0.33,7,0.5,11,0.52,43,0.54,13,0.72,19,0.83,29,0.93,39,1.02,55,1.15,71,1.26,90,1.32,100,1.41,94,1.49,71,1.58,55,1.68,47,1.71,77,1.75,51,1.84,53,1.93,55,1.98,98,2.0,55,2.14,55,2.23,47,2.31,49,2.4,51,2.49,47,2.62,51,2.75,59,2.83,67,2.92,83,3.0,100,3.07,83,3.13,94,3.18,75,3.31,67,3.44,59,3.57,51,3.65,45,3.74,51,3.83,67,3.91,83,4.0,94,4.09,86,4.17,83,4.26,67,4.34,63,4.43,59,4.5,57];
const O_sns = [-10.11,0,-9.86,5,-9.69,9,-9.52,12,-9.35,15,-9.3,14,-9.17,17,-8.91,21,-8.74,25,-8.64,31,-8.55,55,-8.5,29,-8.4,35,-8.31,27,-8.15,33,-8.09,25,-7.96,23,-7.88,29,-7.83,21,-7.66,17,-7.53,15,-7.47,41,-7.44,15,-7.42,0,-7.06,0,-7.03,59,-7.0,15,-6.84,17,-6.67,19,-6.6,25,-6.56,19,-6.41,21,-6.19,25,-6.06,29,-6.02,37,-5.98,25,-5.8,17,-5.54,13,-5.2,9,-4.85,6,-4.42,4,-3.99,2,-3.12,2,-2.5,2,-2.22,4,-2.1,2,-1.5,1,0,0,0.5,2,0.85,5,1.11,9,1.3,17,1.49,10,1.8,7,1.98,12,2.06,5,2.4,3,2.83,2,3.7,2,4.5,1];
const O_snp = [-10.11,0,-9.5,1,-8.55,2,-7.5,2,-7.47,5,-7.42,0,-7.06,0,-7.04,1,-6.56,2,-6.22,4,-6.02,7,-5.89,4,-5.29,2,-3.99,1,-3.12,1,-3.04,37,-2.95,33,-2.78,29,-2.61,23,-2.44,27,-2.31,33,-2.22,41,-2.18,31,-2.13,57,-2.09,31,-1.96,37,-1.79,33,-1.66,31,-1.53,29,-1.48,35,-1.23,35,-1.16,45,-1.1,27,-1.01,23,-0.91,37,-0.84,27,-0.71,19,-0.53,13,-0.36,9,-0.19,5,0,0,0.24,3,0.5,7,0.52,27,0.54,8,0.76,11,1.02,17,1.19,21,1.32,29,1.41,25,1.54,21,1.71,15,1.73,21,1.8,13,1.98,33,2.0,13,2.23,11,2.49,12,2.75,15,2.92,23,3.0,37,3.09,31,3.22,25,3.44,19,3.65,14,3.83,21,3.91,27,4.04,25,4.22,25,4.34,21,4.5,21];

// ---------- phonon DOS (x: meV, y: % of panel height) ----------
const phA_tot = [0,0,4,0.5,5,1,8.6,13,14.7,35,16.5,30,18,31,19.7,35,21,20,23,37,25.2,41,27.4,23,29,49,30.7,37,33,43,35,49,37,84,39,82,39.8,68,41,0];
const phB_sn = [2,0,5,3,7.5,12,8.6,43,9.2,55,10.3,27,10.8,71,11.7,59,12.2,69,12.8,0];
const phB_li = [13,4,14.1,12,15.2,6,16.4,12,17.5,31,18.6,23,19.7,27,20.8,19,21.9,31,23,23,24.1,49,25.2,27,26.3,35,27.4,19,28.5,31,29.6,19,30.7,35,31.8,27,32.9,49,34,27,35.1,35,36.2,19,37.3,27,38.5,35,39.6,27,40.7,43,41.8,23,42.9,35,44,43,45.1,27,46.2,19,47.3,83,48,27,48.6,35,49.7,27,50.6,73,51.2,12,51.7,0];
const phB_liLow = [8,0,10,3,12,5,12.8,2];
const phB_snHigh = [12.8,0,14,1,30,1,51.7,0];
const phB_spk = [37.25,27,37.3,99,37.35,27,48.55,30,48.6,99,48.65,35,49.65,27,49.7,99,49.75,30];
const phC_sn = [0.7,0,3.5,5,6.2,17,7.5,56,8.5,66,9.8,48,10.7,36,11.6,52,12,0];
const phC_li = [12.5,0,14.4,7,16.2,3,18.9,11,19.8,44,21.3,20,23.5,22,25.6,44,27.1,17,29.8,28,31.6,35,32.5,17,33.5,68,34.7,17,36.2,52,38.4,17,39.5,33,40.7,46,42.5,70,43.8,40,45.3,66,46.7,44,48,0];
const phC_liLow = [3,0,6.2,3,8,7,9.5,4,12,1];
const phC_snHigh = [12,0,13.5,2,14,9,14.6,2,20,1,30,1,40,1,48,0];
const phD_sn = [1.3,0,4.4,11,6.2,31,7.5,78,8.5,110,9.6,82,10.4,62,11.1,46,12.2,0];
const phD_li = [12.5,0,13.5,21,14.7,17,16.2,23,18,19,19.8,35,21.6,27,23.5,46,25.3,54,26.7,39,28.5,62,29.8,50,31.1,66,32.5,50,34,90,35.3,66,36.5,50,38,62,39.3,86,40.4,54,41.6,43,43.1,59,44,78,45.3,110,46.5,78,47.3,110,48,70,48.9,0];
const phD_liLow = [5.3,0,6.5,3,8,11,9.8,7,12.5,5];
const phD_snHigh = [12.2,0,14,2,20,1,30,1,40,1,48.9,0];
const phE_sn = [1.3,0,4.4,9,6.2,25,7.5,80,8.4,88,9.5,64,10.4,44,11.3,0];
const phE_li = [12.5,0,13.5,21,14.4,9,15.3,17,16.2,3,17.6,13,18.9,72,19.8,48,20.7,80,21.6,29,22.5,80,23.5,41,24.4,64,25.3,33,26.2,72,27.1,44,28,80,28.9,29,30.4,84,31.3,41,32.5,110,33.5,48,34.4,64,35.3,29,36.2,88,37.1,41,38,72,38.9,41,39.8,80,40.7,33,42,110,42.9,80,43.8,110,44.9,48,45.8,80,46.5,41,48,68,48.5,0];
const phE_liLow = [6.2,0,8,7,10.7,2,12.5,1];
const phE_snHigh = [11.3,0,13,2,15,3,20,1,48,0];
const phF_sn = [1.3,0,4.4,9,6.2,28,7.5,91,8.2,110,8.9,68,9.8,110,10.4,36,11.1,0];
const phF_li = [13.5,0,14.4,36,15.3,5,16.2,17,17.6,13,18.9,1,19.8,17,21.3,110,22.2,36,23.5,76,24.4,24,25.6,110,26.7,36,28,68,28.9,24,30.4,110,31.3,36,32.2,56,32.9,17,34.4,110,35.3,24,36.2,80,37.1,24,38,76,38.9,110,39.8,36,40.7,48,41.6,17,42.5,110,43.5,52,44.4,110,45.3,28,46.2,5,47.6,36,48.9,93,49.3,0];
const phF_liLow = [6.2,0,7.5,7,9,5,10.7,1];
const phF_snHigh = [11.1,0,14,2,16.5,1,17.1,24,17.6,1,25,1,35,1,45,1,49,0];
const phG_sn = [1.3,0,4.4,7,6.2,35,7.5,50,8.4,66,9.3,39,10,92,10.5,39,11.3,0];
const phG_li = [15.3,0,15.8,46,16.7,7,17.6,11,18.9,3,19.8,15,20.7,56,21.6,31,22.5,50,23.5,15,24.4,39,25.6,66,26.4,15,27.5,7,28.5,23,29.8,78,30.7,39,31.6,3,33.5,3,35.3,7,36.2,15,37.6,70,38.5,50,39.5,66,40.7,46,41.6,62,42.5,39,43.8,62,44.9,31,46.2,39,46.7,0];
const phG_liLow = [6,0,7.5,5,9.5,3,11,0];
const phG_snHigh = [11.3,0,14,1,16.2,15,17.1,0,25,1,35,1,46.7,0];
const phH_sn = [1.3,0,4.4,9,6.2,29,7.5,64,8.5,52,9.5,62,10.4,21,11.3,0];
const phH_li = [15.5,0,15.6,41,16.2,13,17.1,9,18,29,18.9,29,19.8,44,20.7,17,21.6,33,22.5,35,23.5,48,24.4,25,25.3,13,26.2,13,27.1,41,28,33,28.5,110,29.3,33,30.4,37,31.3,80,32.2,44,33.5,25,34.4,13,35.3,9,36.2,25,37.1,64,38,41,38.9,76,39.8,56,40.7,64,41.6,44,42.5,56,43.8,48,44.9,37,45.8,56,46.7,0];
const phH_liLow = [6,0,7.5,3,10,2,12,0];
const phH_snHigh = [11.3,0,15,1,25,1,35,1,46.7,0];
const phI_sn = [0.7,0,3.5,9,5.3,28,6.7,56,7.6,62,8.5,44,9.5,50,10.4,28,11.3,0,13.1,0,13.8,46,14.7,32,15.3,0];
const phI_li = [17.6,0,18.4,24,19.5,17,20.4,44,21.1,9,22,42,22.9,17,23.8,28,24.9,20,25.8,36,26.7,28,27.5,20,28.5,40,29.3,36,30,38,31.3,28,32,44,32.9,24,34,9,35.3,13,36.2,20,37.6,52,38.4,75,39.3,36,40.4,44,41.6,75,42.5,28,43.5,44,44.4,110,44.9,63,45.3,75,45.8,0];
const phI_liLow = [5,0,7,3,9.5,4,12,1,15,2];
const phI_snHigh = [15.3,0,18,2,25,1,35,1,45.8,0];
const phJ_sn = [2,0,4.4,11,6.2,27,7.5,39,8.5,66,9.3,50,10.4,15,11.6,39,12.5,15,13.1,0];
const phJ_li = [22.5,0,25.3,15,27.1,31,28.5,43,29.8,31,31.6,23,33.5,31,34.9,21,36.2,29,38,21,39.8,7,41.6,35,43.1,64,44.4,31,45,0];
const phJ_liLow = [5,0,8,2,12,1];
const phJ_snHigh = [13.1,0,25,1,40,1,45,0];
const phK_sn = [2,0,4.4,13,6.2,56,7.5,62,8.5,64,9.5,56,10.4,41,11.3,13,12,52,12.9,0];
const phK_li = [23.8,0,25.3,17,26.4,41,27.5,29,28.5,13,29.8,25,31.1,44,32,41,32.9,62,33.6,17,34.7,86,35.8,41,36.5,0];
const phK_liLow = [4,0,7,2,11,1];
const phK_snHigh = [13,0,30,1,36.5,0];
const phL_sn = [0.7,0,2.5,17,4.4,60,5.3,66,6.2,72,7,62,8,76,8.9,64,9.8,76,10.5,68,11.3,110,12,56,12.9,66,13.8,28,14.9,0];
const phL_li = [21.6,0,22.5,17,23.5,83,24,36,25.3,7,28.9,5,31.3,7,32,110,33.1,110,33.6,36,34.4,17,35.3,0];
const phL_liLow = [5,0,8,2,12,1,14,0];
const phL_snHigh = [15,0,22.5,1,23.5,4,25,1,35,0];
const phM_sn = [0.7,0,2,15,3.1,78,3.8,110,4.5,70,5.3,94,6,110,6.7,66,7.5,110,8.2,78,8.9,110,9.6,70,10.4,86,11.3,59,12.2,78,13.1,0];
const phM_li = [19.5,0,20.2,54,20.7,110,21.6,110,22.2,46,22.7,0];
const phM_liLow = [3,0,7,2,9,3,12,1];
const phM_snHigh = [13.1,0,20,1,21,2,22.7,0];
const phN_tot = [2.2,0,2.7,41,3.5,84,4.4,68,5.3,64,6.2,72,7.5,88,8.2,25,8.9,68,10.4,96,11.1,80,12,110,12.9,110,13.8,88,14.7,41,15.6,0];
const phO_tot = [0,0,2,1,3.3,15,4.2,39,4.9,33,5.5,45,5.9,55,6.1,0,8.6,1,11.9,5,13.6,17,14.4,7,15.8,11,17.5,10,19.1,5,20.2,110,21,110,21.7,0];

// ---------- assemble ----------
const dos = [
  {tot:A_tot, lis:A_lis, lip:A_lip},
  {tot:B_tot, lis:B_lis, lip:B_lip, sns:B_sns, snp:B_snp},
  {tot:C_tot, lis:C_lis, lip:C_lip, sns:C_sns, snp:C_snp},
  {tot:D_tot, lis:D_lis, lip:D_lip, sns:D_sns, snp:D_snp},
  {tot:E_tot, lis:E_lis, lip:E_lip, sns:E_sns, snp:E_snp},
  {tot:F_tot, lis:F_lis, lip:F_lip, sns:F_sns, snp:F_snp},
  {tot:G_tot, lis:G_lis, lip:G_lip, sns:G_sns, snp:G_snp},
  {tot:H_tot, lis:H_lis, lip:H_lip, sns:H_sns, snp:H_snp},
  {tot:I_tot, lis:I_lis, lip:I_lip, sns:I_sns, snp:I_snp},
  {tot:J_tot, lis:J_lis, lip:J_lip, sns:J_sns, snp:J_snp},
  {tot:K_tot, lis:K_lis, lip:K_lip, sns:K_sns, snp:K_snp},
  {tot:L_tot, lis:L_lis, lip:L_lip, sns:L_sns, snp:L_snp},
  {tot:M_tot, lis:M_lis, lip:M_lip, sns:M_sns, snp:M_snp},
  {tot:N_tot, sns:N_sns, snp:N_snp},
  {tot:O_tot, sns:O_sns, snp:O_snp}
];
const phon = [
  {tot:phA_tot},
  {sn:phB_sn, li:phB_li, liLow:phB_liLow, snHigh:phB_snHigh, extra:phB_spk},
  {sn:phC_sn, li:phC_li, liLow:phC_liLow, snHigh:phC_snHigh},
  {sn:phD_sn, li:phD_li, liLow:phD_liLow, snHigh:phD_snHigh},
  {sn:phE_sn, li:phE_li, liLow:phE_liLow, snHigh:phE_snHigh},
  {sn:phF_sn, li:phF_li, liLow:phF_liLow, snHigh:phF_snHigh},
  {sn:phG_sn, li:phG_li, liLow:phG_liLow, snHigh:phG_snHigh},
  {sn:phH_sn, li:phH_li, liLow:phH_liLow, snHigh:phH_snHigh},
  {sn:phI_sn, li:phI_li, liLow:phI_liLow, snHigh:phI_snHigh},
  {sn:phJ_sn, li:phJ_li, liLow:phJ_liLow, snHigh:phJ_snHigh},
  {sn:phK_sn, li:phK_li, liLow:phK_liLow, snHigh:phK_snHigh},
  {sn:phL_sn, li:phL_li, liLow:phL_liLow, snHigh:phL_snHigh},
  {sn:phM_sn, li:phM_li, liLow:phM_liLow, snHigh:phM_snHigh},
  {tot:phN_tot},
  {tot:phO_tot}
];

function P(a){const r=[];for(let i=0;i<a.length;i+=2)r.push([a[i],a[i+1]]);return r;}
function merge(){
  const m=new Map();
  for(const a of arguments){ if(!a) continue; for(let i=0;i<a.length;i+=2){const x=a[i],y=a[i+1]; m.set(x, m.has(x)?Math.max(m.get(x),y):y);} }
  return [...m.entries()].sort((p,q)=>p[0]-q[0]);
}
function tickList(rng, step, maj, skipLast, top){
  const out=[]; const n=Math.round((rng[1]-rng[0])/step);
  for(let i=0;i<=n;i++){
    if(skipLast && i===n) continue;
    const v = +(rng[0]+i*step).toFixed(6);
    const isMaj = Math.abs(v/maj - Math.round(v/maj)) < 1e-6 ? 1 : 0;
    out.push([v, isMaj, top?1:0]);
  }
  return out;
}

const COL = {tot:'#000', lis:'#00c000', lip:'#ff00ff', sns:'#ff0000', snp:'#0000ff', li:'#00c000', sn:'#ff0000'};
const SERIF = '"Liberation Serif","Times New Roman",serif';
const SANS = '"Liberation Sans",Arial,sans-serif';
const TOP0 = 36.7, STEP = 101.8, PH = 84.6;
const LX = 24.2, LW = 636.7, RX = 670.7, RW = 181;

const grids=[], xAxes=[], yAxes=[], series=[], graphics=[];

function addGrid(rect, xOpt, yOpt){
  const g = grids.length;
  grids.push(Object.assign({containLabel:false, show:false}, rect));
  xAxes.push(Object.assign({gridIndex:g, type:'value', z:10, splitLine:{show:false}}, xOpt));
  yAxes.push(Object.assign({gridIndex:g, type:'value', min:0, max:100, z:10, splitLine:{show:false},
    axisTick:{show:false}, axisLabel:{show:false}}, yOpt));
  return g;
}
function fmt(v){ return Math.abs(v-4.5)<1e-9 ? '' : String(v); }
function xax(pos, range, interval, showLabel, margin, showTick){
  return {position:pos, min:range[0], max:range[1], interval:interval,
    axisLine:{show:true, onZero:false, lineStyle:{color:'#000', width:2}},
    axisTick:{show:!!showTick, length:7, lineStyle:{color:'#000', width:2}},
    axisLabel:{show:showLabel, margin:margin, formatter:fmt, fontFamily:SANS, fontSize:15, color:'#000'}};
}
function yax(pos){
  return {position:pos, axisLine:{show:true, onZero:false, lineStyle:{color:'#000', width:2}}};
}
function ln(data,g,color,area){
  const s={type:'line',xAxisIndex:g,yAxisIndex:g,data:data,showSymbol:false,symbol:'none',
    clip:true,silent:true,animation:false,lineStyle:{color:color,width:1.2},z:2};
  if(area) s.areaStyle={color:'#c0c0c0',opacity:1};
  return s;
}
function tickSeries(g, data){
  return {type:'custom', xAxisIndex:g, yAxisIndex:g, data:data, silent:true, animation:false, clip:false, z:50,
    encode:{x:0, y:1},
    renderItem:function(params, api){
      const v = api.value(0), mj = api.value(1), top = api.value(2);
      const pt = api.coord([v, top ? 100 : 0]);
      const L = mj ? 8 : 5;
      return {type:'line', shape:{x1:pt[0], y1:pt[1], x2:pt[0], y2:pt[1] + (top ? -L : L)},
        style:{stroke:'#000', lineWidth:2}};
    }};
}

for(let p=0;p<15;p++){
  const top = TOP0 + p*STEP;
  for(let side=0; side<2; side++){
    const rect = {left: side?RX:LX, top:top, width: side?RW:LW, height:PH};
    const rng = side?phRange:eRange, maj = side?phMajor:eMajor, step = side?phMinorStep:eMinorStep;
    const g = addGrid(rect, xax('bottom', rng, maj, p===14, 15, false), yax('left'));
    const gt = addGrid(rect, xax('top', rng, maj, p===0, 12, false), yax('right'));
    series.push({type:'line',xAxisIndex:gt,yAxisIndex:gt,data:[],silent:true,animation:false});
    if(side===0){
      const d = dos[p];
      series.push(ln(P(d.tot),g,COL.tot,true));
      ['lis','lip','sns','snp'].forEach(k=>{ if(d[k]) series.push(ln(P(d[k]),g,COL[k],false)); });
      series[series.length-1].markLine = {silent:true,symbol:['none','none'],animation:false,label:{show:false},
        lineStyle:{type:[5,4],color:'#000',width:1.5},data:[{xAxis:0}]};
    } else {
      const f = phon[p];
      const tot = f.tot ? P(f.tot) : merge(f.sn, f.li, f.extra);
      series.push(ln(tot,g,COL.tot,true));
      if(f.li) series.push(ln(merge(f.liLow, f.li),g,COL.li,false));
      if(f.sn) series.push(ln(merge(f.sn, f.snHigh),g,COL.sn,false));
    }
    let tdata = tickList(rng, step, maj, side===0, false);
    if(p===0) tdata = tdata.concat(tickList(rng, step, maj, side===0, true));
    series.push(tickSeries(g, tdata));
  }
  graphics.push({type:'text',x:37,y:top+20,z:20,style:{
    text:'{b|(}{bi|'+letters[p]+'}{b|)}{n| '+names[p]+'}',
    verticalAlign:'middle',textVerticalAlign:'middle',align:'left',textAlign:'left',
    fill:'#000',font:'18px '+SERIF,
    rich:{b:{fontFamily:SERIF,fontSize:18,fontWeight:'bold',fill:'#000',color:'#000'},
          bi:{fontFamily:SERIF,fontSize:18,fontWeight:'bold',fontStyle:'italic',fill:'#000',color:'#000'},
          n:{fontFamily:SERIF,fontSize:18,fill:'#000',color:'#000'}}}});
  if(subs[p]){
    graphics.push({type:'text',x:(p===4?55:63),y:top+43,z:20,style:{text:subs[p],
      verticalAlign:'middle',textVerticalAlign:'middle',align:'left',textAlign:'left',fill:'#000',font:'18px '+SERIF}});
  }
}

const lg = [
  {type:'rect',shape:{x:147,y:54,width:121,height:54},style:{fill:'#fff',stroke:'#555',lineWidth:1.5},z:20},
  {type:'rect',shape:{x:151,y:58,width:27,height:12},style:{fill:'#c0c0c0',stroke:'#666',lineWidth:1.5},z:21},
  {type:'text',x:183,y:64,z:21,style:{text:'Total',font:'13px '+SERIF,fill:'#000',verticalAlign:'middle',textVerticalAlign:'middle'}},
  {type:'line',shape:{x1:149,y1:81,x2:177,y2:81},style:{stroke:COL.lis,lineWidth:1.5},z:21},
  {type:'text',x:182,y:81,z:21,style:{text:'Li-s',font:'13px '+SERIF,fill:'#000',verticalAlign:'middle',textVerticalAlign:'middle'}},
  {type:'line',shape:{x1:207,y1:81,x2:237,y2:81},style:{stroke:COL.lip,lineWidth:1.5},z:21},
  {type:'text',x:240,y:81,z:21,style:{text:'Li-p',font:'13px '+SERIF,fill:'#000',verticalAlign:'middle',textVerticalAlign:'middle'}},
  {type:'line',shape:{x1:149,y1:98,x2:178,y2:98},style:{stroke:COL.sns,lineWidth:1.5},z:21},
  {type:'text',x:182,y:98,z:21,style:{text:'Sn-s',font:'13px '+SERIF,fill:'#000',verticalAlign:'middle',textVerticalAlign:'middle'}},
  {type:'line',shape:{x1:208,y1:98,x2:238,y2:98},style:{stroke:COL.snp,lineWidth:1.5},z:21},
  {type:'text',x:241,y:98,z:21,style:{text:'Sn-p',font:'13px '+SERIF,fill:'#000',verticalAlign:'middle',textVerticalAlign:'middle'}}
];
const lg2 = [
  {type:'rect',shape:{x:770.5,y:1275,width:66,height:53},style:{fill:'#fff',stroke:'#555',lineWidth:1.5},z:20},
  {type:'rect',shape:{x:774,y:1280,width:28,height:12},style:{fill:'#c0c0c0',stroke:'#666',lineWidth:1.5},z:21},
  {type:'text',x:806,y:1286,z:21,style:{text:'Total',font:'13px '+SERIF,fill:'#000',verticalAlign:'middle',textVerticalAlign:'middle'}},
  {type:'line',shape:{x1:774,y1:1302,x2:801,y2:1302},style:{stroke:COL.li,lineWidth:1.5},z:21},
  {type:'text',x:806,y:1302,z:21,style:{text:'Li',font:'13px '+SERIF,fill:'#000',verticalAlign:'middle',textVerticalAlign:'middle'}},
  {type:'line',shape:{x1:774,y1:1319,x2:801,y2:1319},style:{stroke:COL.sn,lineWidth:1.5},z:21},
  {type:'text',x:806,y:1319,z:21,style:{text:'Sn',font:'13px '+SERIF,fill:'#000',verticalAlign:'middle',textVerticalAlign:'middle'}}
];
graphics.push(...lg, ...lg2);

graphics.push({type:'text',x:341,y:1592,z:20,style:{
  text:'{i|E}{n| - }{i|E}{s|Fermi}{n| (eV)}',align:'center',textAlign:'center',verticalAlign:'middle',textVerticalAlign:'middle',
  font:'18px '+SERIF,fill:'#000',
  rich:{i:{fontFamily:SERIF,fontSize:18,fontStyle:'italic',fill:'#000',color:'#000'},
        n:{fontFamily:SERIF,fontSize:18,fill:'#000',color:'#000'},
        s:{fontFamily:SERIF,fontSize:13,fontStyle:'italic',fill:'#000',color:'#000',padding:[9,0,0,0]}}}});
graphics.push({type:'text',x:759,y:1592,z:20,style:{
  text:'{n|phonon }{i|E}{n| (meV)}',align:'center',textAlign:'center',verticalAlign:'middle',textVerticalAlign:'middle',
  font:'19px '+SERIF,fill:'#000',
  rich:{i:{fontFamily:SERIF,fontSize:19,fontStyle:'italic',fill:'#000',color:'#000'},
        n:{fontFamily:SERIF,fontSize:19,fill:'#000',color:'#000'}}}});

const chart = echarts.init(document.getElementById('c'), null, {renderer:'canvas'});
chart.setOption({animation:false, backgroundColor:'#fff', grid:grids, xAxis:xAxes, yAxis:yAxes, series:series, graphic:graphics});
</script></body></html>
